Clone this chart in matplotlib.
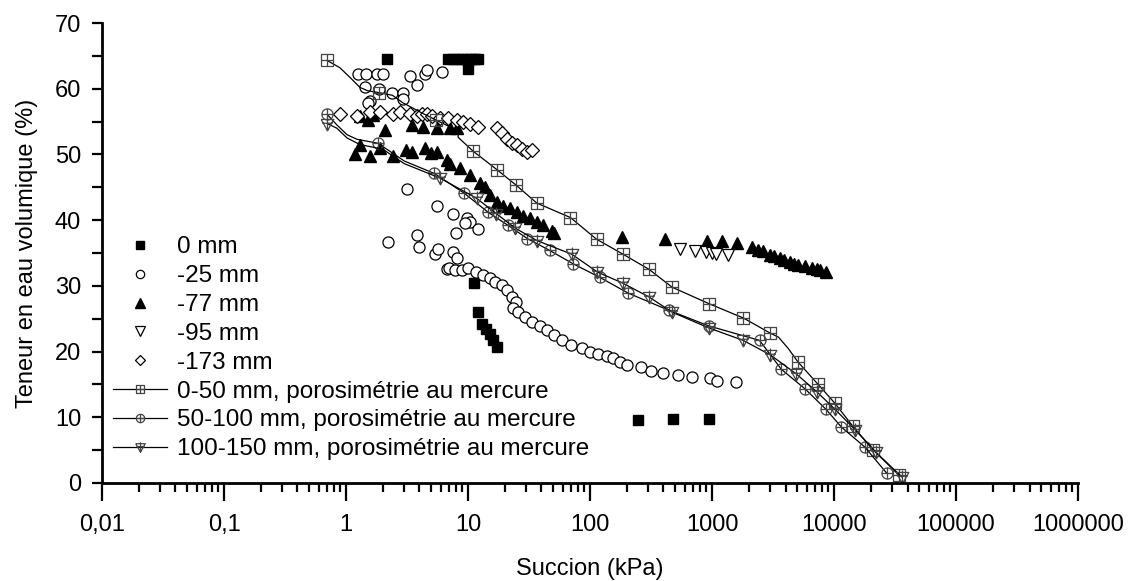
import numpy as np
import matplotlib
matplotlib.use("Agg")
import matplotlib.pyplot as plt
from matplotlib.path import Path
from matplotlib.ticker import FixedLocator, FixedFormatter, LogLocator, NullFormatter, MultipleLocator

plt.rcParams['font.family'] = ['Liberation Sans', 'DejaVu Sans']

# ---- data (suction kPa, volumetric water content %) ----
mm0_x = [2.17, 6.9, 7.6, 8.3, 9.0, 9.8, 10.6, 11.4, 12.1, 10.0,
         11.1, 12.1, 13.0, 14.0, 15.0, 16.0, 17.3, 247, 479, 944]
mm0_y = [64.5, 64.5, 64.5, 64.5, 64.5, 64.5, 64.5, 64.5, 64.5, 63.0,
         30.4, 26.0, 24.2, 23.4, 22.6, 21.8, 20.7, 9.6, 9.8, 9.8]

mm25_x = [1.25, 1.46, 1.8, 2.0, 1.43, 1.86, 1.57, 1.5, 2.38, 2.93, 2.93, 3.35, 3.82, 4.45, 4.6, 6.1,
          3.16, 5.57, 7.5, 9.8, 10.4, 9.4, 12.1, 7.95, 3.82, 2.2, 3.96, 5.4, 5.7, 7.5, 8.1,
          6.7, 7.0, 7.8, 8.9, 10.0, 11.6, 13.2, 15.1, 16.6, 19.0, 20.9, 23.0, 24.5, 23.5, 25.6,
          29.3, 33.3, 38.7, 44, 51, 59, 70, 86, 100, 116, 137, 155, 176, 200, 260, 314, 394,
          525, 686, 960, 1100, 1580]
mm25_y = [62.3, 62.3, 62.3, 62.3, 60.2, 60.0, 58.2, 57.8, 59.3, 59.3, 58.5, 61.9, 60.5, 62.3, 62.8, 62.5,
          44.8, 42.1, 41.0, 40.3, 39.7, 39.5, 38.6, 38.1, 37.8, 36.6, 35.9, 34.8, 35.6, 35.1, 34.3,
          32.5, 32.7, 32.4, 32.4, 32.7, 32.1, 31.6, 31.2, 30.6, 30.1, 29.3, 28.3, 27.5, 26.7, 26.0,
          25.2, 24.5, 23.9, 23.3, 22.5, 21.7, 21.0, 20.5, 19.9, 19.6, 19.3, 19.0, 18.4, 17.9, 17.6, 17.0, 16.7,
          16.4, 16.1, 16.0, 15.5, 15.3]

mm77_x = [1.3, 1.5, 1.66, 2.09, 3.5, 4.27, 5.6, 7.1, 8.1,
          1.19, 1.3, 1.57, 1.89, 2.42, 3.1, 3.5, 4.4, 5.0, 5.6, 6.7,
          7.1, 8.6, 10.4, 12.5, 13.8, 15.1, 17.2, 19.4, 22, 25, 28, 32, 36.6, 41, 48.6, 51,
          183, 412, 910, 1210, 1600, 2130, 2400, 2620, 2990, 3200, 3600, 3900, 4350, 4700,
          5070, 5800, 6600, 7200, 7680, 8600]
mm77_y = [55.9, 55.2, 56.0, 53.7, 54.5, 54.2, 54.0, 54.0, 54.0,
          50.1, 51.5, 49.8, 51.0, 49.8, 50.6, 50.4, 51.0, 50.2, 50.3, 49.1,
          48.6, 47.9, 46.8, 45.7, 45.0, 43.8, 42.7, 42.2, 41.8, 41.2, 40.7, 40.3, 39.7, 39.2, 38.4, 38.1,
          37.4, 37.2, 36.9, 36.9, 36.5, 35.9, 35.5, 35.3, 34.7, 34.5, 34.2, 34.0, 33.6, 33.4,
          33.1, 33.0, 32.7, 32.6, 32.4, 32.1]

mm95_x = [550, 720, 900, 1000, 1080, 1350]
mm95_y = [35.6, 35.3, 35.1, 35.0, 34.9, 34.7]

mm173_x = [0.89, 1.23, 1.57, 1.89, 2.42, 2.77, 3.35, 3.8, 4.2, 4.6, 5.1, 5.9, 6.9, 8.1, 9.1,
           10.4, 12.1, 17.2, 19.0, 20.9, 23.0, 25.2, 27.8, 30.6, 33.5]
mm173_y = [56.2, 55.9, 56.4, 56.4, 56.2, 56.4, 56.2, 55.9, 56.2, 56.2, 55.9, 55.6, 55.5, 55.2, 54.9,
           54.7, 54.1, 54.0, 53.2, 52.4, 51.8, 51.4, 50.9, 50.3, 50.6]

# mercury porosimetry curves (line points; markers at the listed indices)
hg050_x = [0.70, 0.89, 1.08, 1.3, 1.5, 1.87, 2.4, 2.9, 4.0, 5.5, 8.3, 8.3, 11.0, 17.2, 24.5,
           36.6, 69, 113, 187, 305, 470, 940, 1810, 3000, 3500, 4200, 5070, 7400, 10200,
           14300, 21000, 34000]
hg050_y = [64.3, 63.2, 61.7, 60.2, 59.7, 59.4, 59.0, 57.9, 56.5, 55.2, 53.6, 52.6, 50.5, 47.7, 45.4,
           42.6, 40.4, 37.1, 34.8, 32.5, 29.8, 27.3, 25.1, 22.8, 22.2, 20.5, 18.4, 15.0, 12.1,
           8.6, 5.0, 1.2]
hg050_mk = [0, 5, 9, 12, 13, 14, 15, 16, 17, 18, 19, 20, 21, 22, 23, 26, 27, 28, 29, 30, 31]

hg100_x = [0.70, 0.84, 1.02, 1.23, 1.83, 3.0, 5.3, 9.3, 14.6, 21.3, 30.6, 46.6, 72, 120, 205,
           440, 940, 2450, 3700, 5800, 8600, 11500, 17800, 27000]
hg100_y = [56.1, 54.5, 53.0, 52.3, 51.7, 49.0, 47.1, 44.1, 41.2, 39.2, 37.2, 35.4, 33.4, 31.3, 28.9,
           26.3, 23.9, 21.7, 17.3, 14.3, 11.2, 8.5, 5.5, 1.5]
hg100_mk = [0, 4, 6, 7, 8, 9, 10, 11, 12, 13, 14, 15, 16, 17, 18, 19, 20, 21, 22, 23]

hg150_x = [0.70, 0.84, 1.02, 1.3, 2.0, 3.0, 5.9, 11.8, 17, 24.3, 36.6, 71, 115, 186, 305,
           470, 940, 1800, 3000, 4900, 7300, 10200, 14900, 22000, 36000]
hg150_y = [54.7, 54.0, 52.5, 51.5, 50.8, 48.6, 46.4, 43.3, 41.0, 38.8, 36.9, 34.8, 32.1, 30.4, 28.3,
           26.0, 23.6, 21.7, 19.5, 16.6, 13.8, 11.2, 8.1, 4.7, 0.9]
hg150_mk = [0] + list(range(6, 25))

x_ticks = [0.01, 0.1, 1, 10, 100, 1000, 10000, 100000, 1000000]
x_labels = ['0,01', '0,1', '1', '10', '100', '1000', '10000', '100000', '1000000']


def combo_marker(kind):
    """Open marker with a cross inside (square / circle / down triangle)."""
    if kind == 's':
        outer = [(-1, -1), (1, -1), (1, 1), (-1, 1), (-1, -1)]
        cross = [(0, -1), (0, 1), (-1, 0), (1, 0)]
    elif kind == 'o':
        t = np.linspace(0, 2 * np.pi, 41)
        outer = list(zip(np.cos(t), np.sin(t)))
        cross = [(0, -1), (0, 1), (-1, 0), (1, 0)]
    else:
        outer = [(-1, 0.8), (1, 0.8), (0, -1), (-1, 0.8)]
        cross = [(0, -1), (0, 1.1), (-0.8, 0.2), (0.8, 0.2)]
    verts = outer + cross
    codes = [Path.MOVETO] + [Path.LINETO] * (len(outer) - 1)
    codes += [Path.MOVETO, Path.LINETO, Path.MOVETO, Path.LINETO]
    return Path(verts, codes)


fig = plt.figure(figsize=(11.31, 5.81), dpi=100)
ax = fig.add_axes([0.0902, 0.1687, 0.8630, 0.7917])

ax.plot(mm0_x, mm0_y, ls='none', marker='s', ms=7, mfc='black', mec='black', label='0 mm')
ax.plot(mm25_x, mm25_y, ls='none', marker='o', ms=8, mfc='white', mec='black', mew=0.9,
        label='-25 mm')
ax.plot(mm77_x, mm77_y, ls='none', marker='^', ms=9, mfc='black', mec='black', label='-77 mm')
ax.plot(mm95_x, mm95_y, ls='none', marker='v', ms=9, mfc='white', mec='black', mew=0.9,
        label='-95 mm')
ax.plot(mm173_x, mm173_y, ls='none', marker='D', ms=7, mfc='white', mec='black', mew=0.9,
        label='-173 mm')

hg_style = dict(color='black', lw=0.9, mfc='none', mec='#444444', mew=0.9)
ax.plot(hg050_x, hg050_y, marker=combo_marker('s'), ms=8, markevery=hg050_mk,
        label='0-50 mm, porosimétrie au mercure', **hg_style)
ax.plot(hg100_x, hg100_y, marker=combo_marker('o'), ms=8, markevery=hg100_mk,
        label='50-100 mm, porosimétrie au mercure', **hg_style)
ax.plot(hg150_x, hg150_y, marker=combo_marker('v'), ms=10, markevery=hg150_mk,
        label='100-150 mm, porosimétrie au mercure', **hg_style)

ax.set_xscale('log')
ax.set_xlim(0.01, 1000000)
ax.set_ylim(0, 70)
ax.xaxis.set_major_locator(FixedLocator(x_ticks))
ax.xaxis.set_major_formatter(FixedFormatter(x_labels))
ax.xaxis.set_minor_locator(LogLocator(base=10, subs=np.arange(2, 10), numticks=100))
ax.xaxis.set_minor_formatter(NullFormatter())
ax.yaxis.set_major_locator(MultipleLocator(10))
ax.yaxis.set_minor_locator(MultipleLocator(5))

for side in ('top', 'right'):
    ax.spines[side].set_visible(False)
for side in ('left', 'bottom'):
    ax.spines[side].set_linewidth(2)

ax.tick_params(axis='x', which='major', direction='out', length=13, width=1.6,
               labelsize=17, pad=9)
ax.tick_params(axis='x', which='minor', direction='out', length=6.5, width=1.6)
ax.tick_params(axis='y', which='both', direction='out', length=7, width=1.6,
               labelsize=17, pad=8)

ax.set_xlabel('Succion (kPa)', fontsize=17, labelpad=16)
ax.set_ylabel('Teneur en eau volumique (%)', fontsize=17, labelpad=12)

ax.legend(loc='upper left', bbox_to_anchor=(0.011, 0.536), frameon=False, fontsize=17.5,
          handlelength=2.25, handletextpad=0.4, labelspacing=0.28, borderpad=0,
          borderaxespad=0, markerscale=0.75, numpoints=1)

fig.savefig('out.png', dpi=100)
